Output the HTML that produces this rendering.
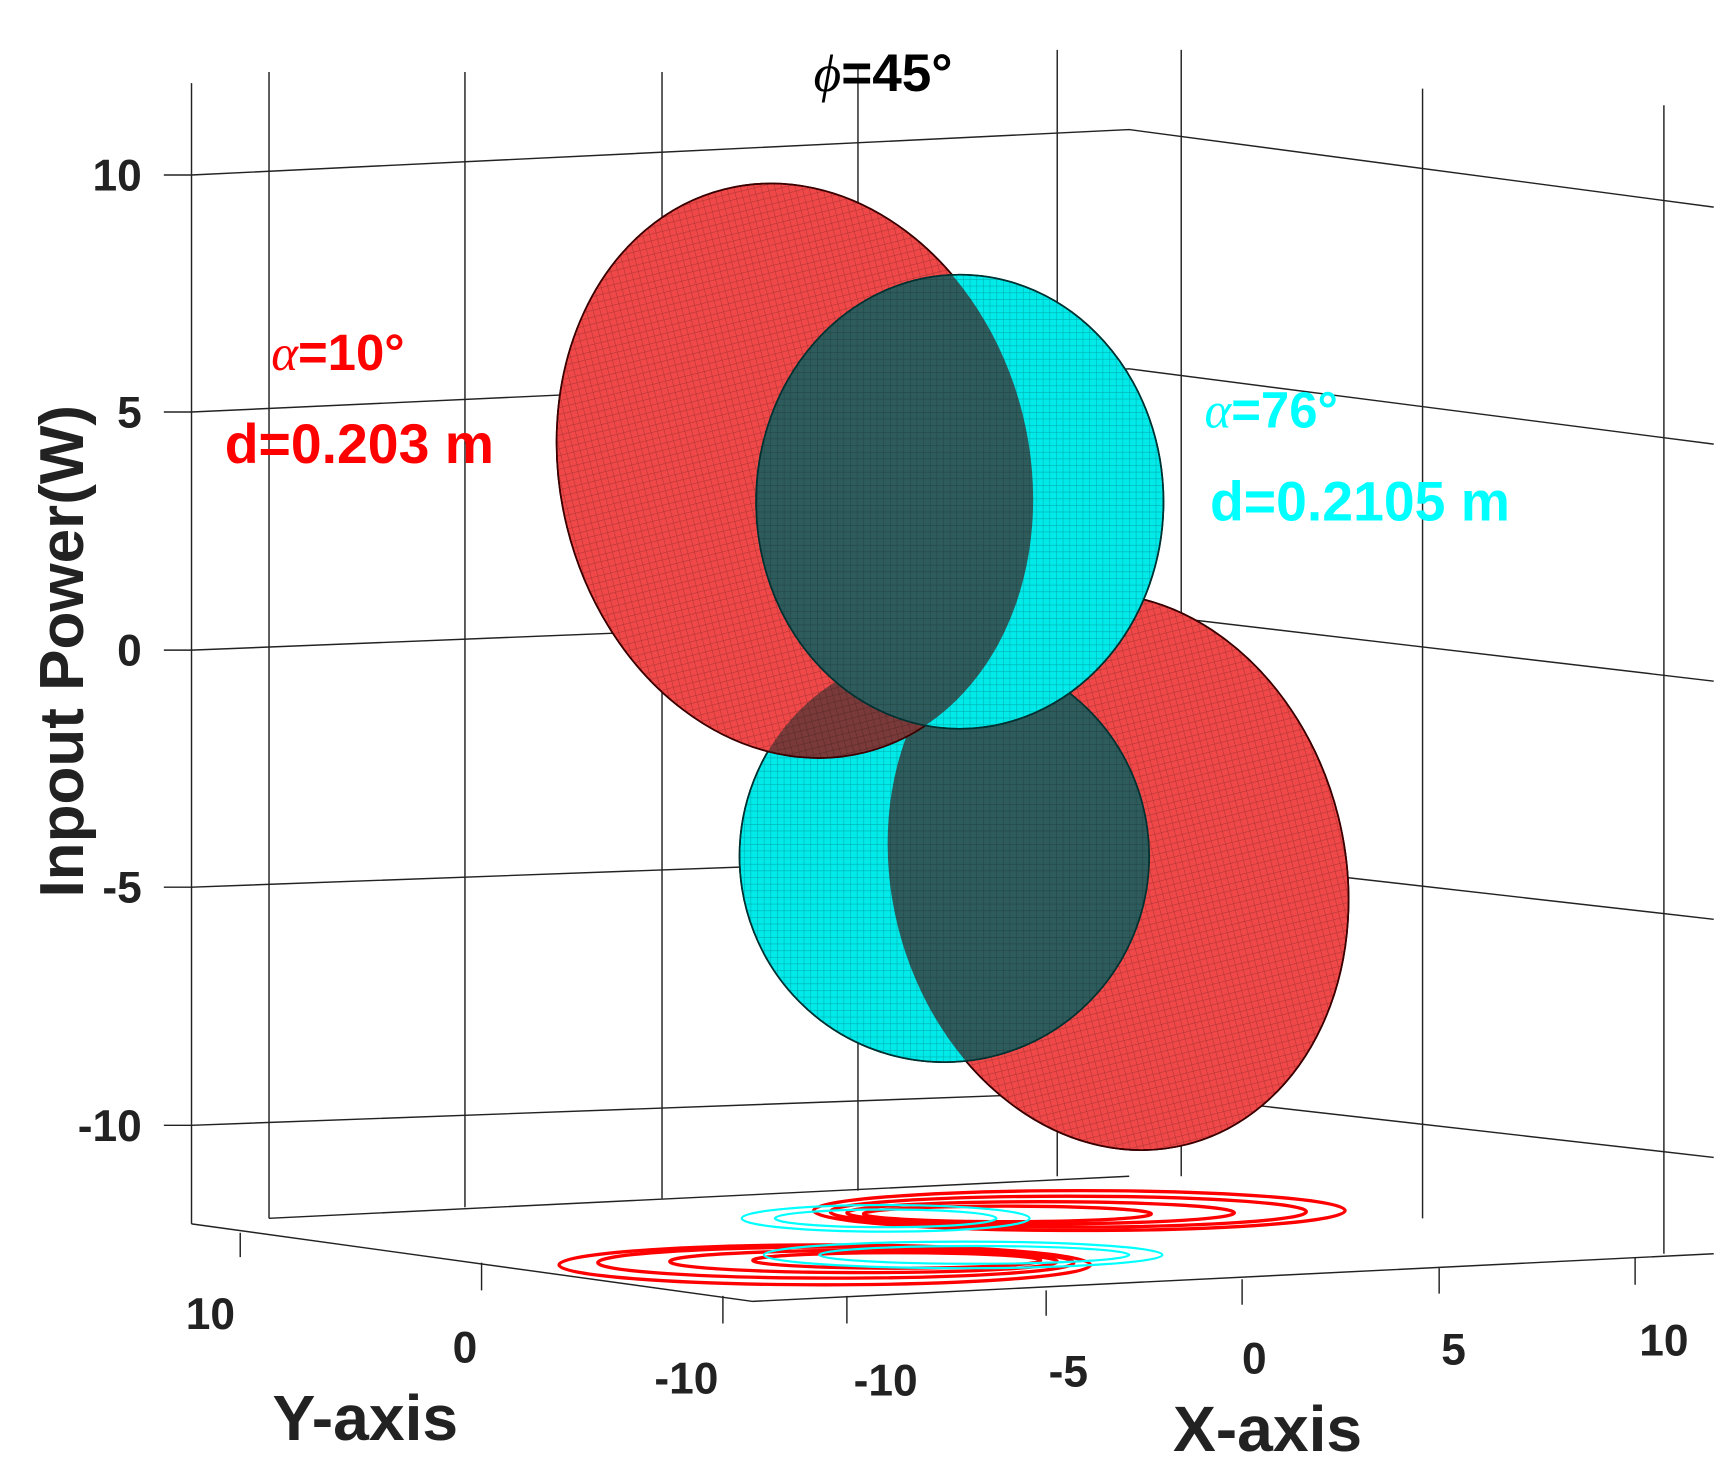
<!DOCTYPE html>
<html><head><meta charset="utf-8"><style>html,body{margin:0;padding:0;background:#fff}svg{display:block}</style></head>
<body>
<svg width="1727" height="1462" viewBox="0 0 1560 1320" preserveAspectRatio="none" xmlns="http://www.w3.org/2000/svg" font-family="Liberation Sans, sans-serif">
<defs>
<pattern id="mesh" width="6" height="6" patternUnits="userSpaceOnUse"><path d="M0 0H6M0 0V6" stroke="#000" stroke-opacity="0.25" stroke-width="1"/></pattern>
<ellipse id="ru" cx="718" cy="425" rx="212" ry="262" transform="rotate(-14 718 425)"/>
<ellipse id="rl" cx="1010" cy="787" rx="205" ry="254" transform="rotate(-14 1010 787)"/>
<ellipse id="cu" cx="867" cy="453" rx="184" ry="205"/>
<ellipse id="cl" cx="853" cy="773" rx="185" ry="186"/>
<clipPath id="cuClip"><use href="#cu"/></clipPath>
<clipPath id="clClip"><use href="#cl"/></clipPath>
</defs>
<g stroke="#222" stroke-width="1.3" fill="none">
<path d="M173 75V1105M243 65V1100M420 65V1090M598 65V1082M775 60V1075M955 45V1062M1067 45V1062M1285 80V1100M1503 95V1132"/>
<path d="M173 158L1020 117L1548 187M173 372L1020 333L1548 401M173 587L1020 553L1548 615M173 801L1020 770L1548 830M173 1016L1020 985L1548 1045"/>
<path d="M173 1105L680 1175L1548 1132M243 1100L1020 1062"/>
<path d="M148 158H173M148 372H173M148 587H173M148 801H173M148 1016H173"/>
<path d="M217 1113V1135M435 1140V1165M653 1170V1195M765 1170V1195M945 1165V1188M1122 1155V1178M1300 1145V1168M1477 1135V1160"/>
</g>
<g fill="none" stroke-width="3">
<ellipse cx="745" cy="1142" rx="240" ry="18" stroke="#f00"/>
<ellipse cx="755" cy="1140" rx="215" ry="14" stroke="#f00"/>
<ellipse cx="780" cy="1139" rx="175" ry="10" stroke="#f00"/>
<ellipse cx="810" cy="1138" rx="130" ry="7" stroke="#f00"/>
<ellipse cx="975" cy="1093" rx="240" ry="18" stroke="#f00"/>
<ellipse cx="965" cy="1094" rx="215" ry="14" stroke="#f00"/>
<ellipse cx="940" cy="1095" rx="175" ry="10" stroke="#f00"/>
<ellipse cx="910" cy="1096" rx="130" ry="7" stroke="#f00"/>
<ellipse cx="800" cy="1100" rx="130" ry="12" stroke="#0ff" stroke-width="2"/>
<ellipse cx="800" cy="1100" rx="100" ry="8" stroke="#0ff" stroke-width="2"/>
<ellipse cx="870" cy="1133" rx="180" ry="12" stroke="#0ff" stroke-width="2"/>
<ellipse cx="880" cy="1133" rx="140" ry="8" stroke="#0ff" stroke-width="2"/>
</g>
<g stroke="#3a0000" stroke-width="1.5">
<use href="#rl" fill="#f04848"/>
<use href="#rl" fill="url(#mesh)"/>
<use href="#cl" fill="#00eaea" stroke="#004040"/>
<g clip-path="url(#clClip)"><use href="#rl" fill="#2e5c5c" stroke="none"/></g>
<use href="#cl" fill="url(#mesh)" stroke="#003030"/>
<use href="#ru" fill="#f04848"/>
<g clip-path="url(#clClip)"><use href="#ru" fill="#7a3a3a" stroke="none"/></g>
<use href="#ru" fill="url(#mesh)"/>
<use href="#cu" fill="#00eaea" stroke="#004040"/>
<g clip-path="url(#cuClip)"><use href="#ru" fill="#2e5c5c" stroke="none"/></g>
<use href="#cu" fill="url(#mesh)" stroke="#003030"/>
</g>
<g font-weight="bold" font-size="40" fill="#222" text-anchor="end">
<text x="128" y="172">10</text><text x="128" y="386">5</text><text x="128" y="601">0</text><text x="128" y="815">-5</text><text x="128" y="1030">-10</text>
</g>
<g font-weight="bold" font-size="40" fill="#222" text-anchor="middle">
<text x="190" y="1200">10</text><text x="420" y="1230">0</text><text x="620" y="1258">-10</text><text x="800" y="1260">-10</text><text x="965" y="1252">-5</text><text x="1133" y="1240">0</text><text x="1313" y="1232">5</text><text x="1503" y="1224">10</text>
</g>
<g font-weight="bold" font-size="58" fill="#222" text-anchor="middle">
<text x="330" y="1300">Y-axis</text><text x="1145" y="1310">X-axis</text>
<text transform="translate(75 588) rotate(-90)" font-size="56">Inpout Power(W)</text>
</g>
<text x="735" y="82" font-size="48" font-weight="bold" fill="#000"><tspan font-style="italic" font-family="Liberation Serif, serif" font-weight="normal">ϕ</tspan>=45°</text>
<text x="245" y="334" font-size="46" font-weight="bold" fill="#f00"><tspan font-style="italic" font-family="Liberation Serif, serif" font-weight="normal">α</tspan>=10°</text>
<text x="203" y="418" font-size="50" font-weight="bold" fill="#f00">d=0.203 m</text>
<text x="1088" y="386" font-size="46" font-weight="bold" fill="#0ff"><tspan font-style="italic" font-family="Liberation Serif, serif" font-weight="normal">α</tspan>=76°</text>
<text x="1093" y="470" font-size="50" font-weight="bold" fill="#0ff">d=0.2105 m</text>
</svg>
</body></html>
